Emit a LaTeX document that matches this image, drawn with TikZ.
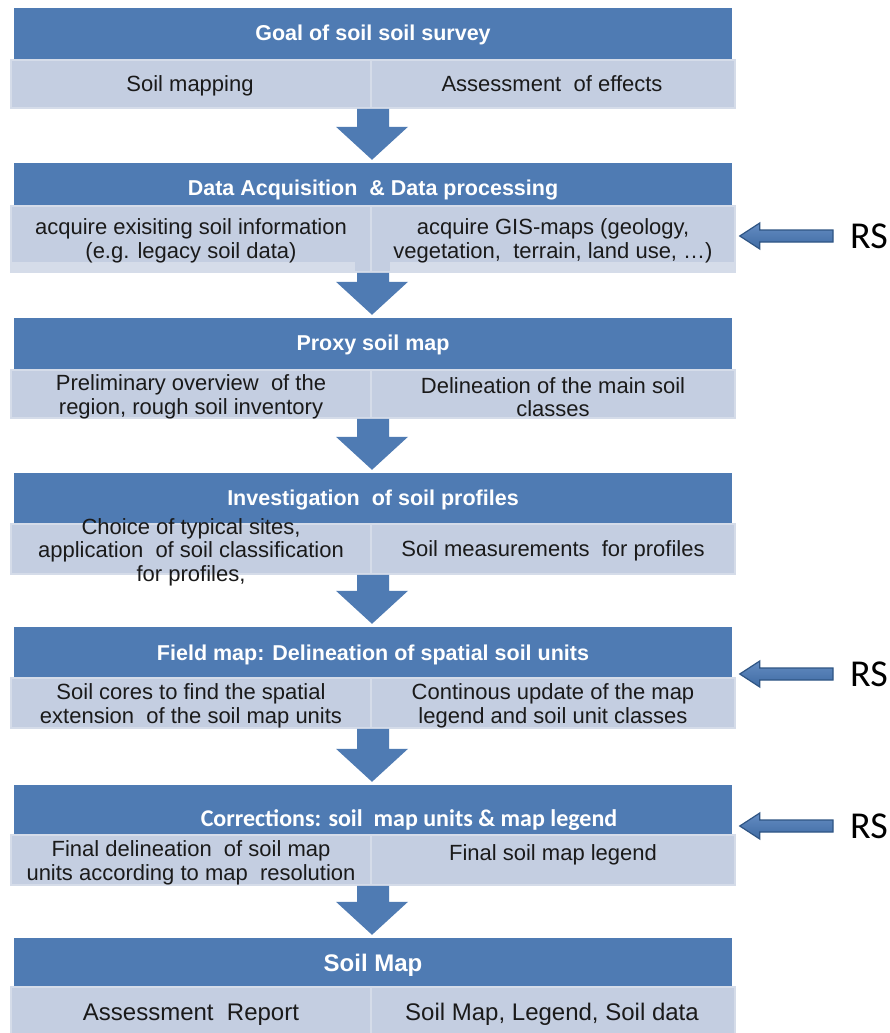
\documentclass[tikz,border=0pt]{standalone}
\usepackage{fontspec}
\setmainfont{Liberation Sans}
\newfontfamily\calib{Carlito}
\usetikzlibrary{calc}
\definecolor{hdr}{HTML}{4F7BB3}
\definecolor{cell}{HTML}{C4CEE1}
\definecolor{cellrim}{HTML}{D5DCE9}
\definecolor{txt}{HTML}{1A1A1A}
\definecolor{rstop}{HTML}{648CC2}
\definecolor{rsbot}{HTML}{3F6BA3}
\definecolor{rsline}{HTML}{2F5584}
\tikzset{
  hdrbox/.style={fill=hdr, inner sep=0pt, minimum width=718pt},
  hdrtitle/.style={text=white, inner sep=0pt, anchor=base, font=\fontsize{21.5}{24}\selectfont\bfseries},
  cellbox/.style={fill=cell, draw=cellrim, line width=1.5pt, inner sep=0pt},
  lcell/.style={cellbox, minimum width=360pt},
  rcell/.style={cellbox, minimum width=364pt},
  celltext/.style={text=txt, align=center, inner sep=0pt, font=\fontsize{22}{23.5}\selectfont},
  oneline/.style={celltext, anchor=base},
  bigtext/.style={text=txt, inner sep=0pt, anchor=base, font=\fontsize{24}{26}\selectfont},
  rslabel/.style={inner sep=0pt, font=\calib\fontsize{38}{40}\selectfont},
  downarrow/.style={fill=hdr},
  rsarrow/.style={top color=rstop, bottom color=rsbot, draw=rsline, line width=1.2pt}
}
\newcommand\flowarrow[2]{%
  \fill[downarrow] let \p1=(#1.south east), \p2=(#2.north) in
    (\x2-16pt,\y1) -- (\x2+16pt,\y1) -- (\x2+16pt,\y2+36pt) -- (\x2+35pt,\y2+36pt)
    -- (\x2-1pt,\y2+3pt) -- (\x2-37pt,\y2+36pt) -- (\x2-16pt,\y2+36pt) -- cycle;}
\newcommand\rsarrowto[2]{%
  \path[rsarrow] let \p1=(#1.west), \p2=(#2.east) in
    (\x2+4pt,\y1) -- (\x2+24pt,\y1+13pt) -- (\x2+24pt,\y1+6pt) -- (\x1-17pt,\y1+6pt)
    -- (\x1-17pt,\y1-6pt) -- (\x2+24pt,\y1-6pt) -- (\x2+24pt,\y1-13pt) -- cycle;}
\begin{document}
\begin{tikzpicture}[x=1pt,y=-1pt]
\useasboundingbox[fill=white] (0,0) rectangle (890,1033);

% ---------- block 1
\node[hdrbox, minimum height=52pt] (h1) at (373,34) {};
\node[hdrtitle] (t1) at (373,40.5) {Goal of soil soil survey};
\node[lcell, minimum height=48pt] (s1l) at (191,84) {};
\node[rcell, minimum height=48pt] (s1r) at (553,84) {};
\node[oneline] (c1l) at (190,91) {Soil mapping};
\node[oneline] (c1r) at (552,91) {Assessment\ \ of effects};

% ---------- block 2
\node[hdrbox, minimum height=43pt] (h2) at (373,184.5) {};
\node[hdrtitle] (t2) at (373,195) {Data Acquisition\ \ \& Data processing};
\node[lcell, minimum height=66pt] (s2l) at (191,239) {};
\node[rcell, minimum height=66pt] (s2r) at (553,239) {};
\fill[cellrim] (11,262) rectangle (355,271.5);
\fill[cellrim] (390,262) rectangle (735,271.5);
\node[celltext] (c2l) at (191,241) {acquire exisiting soil information\\(e.g. legacy soil data)};
\node[celltext] (c2r) at (553,241) {acquire GIS-maps (geology,\\vegetation,\ \ terrain, land use, …)};

% ---------- block 3
\node[hdrbox, minimum height=52pt] (h3) at (373,344) {};
\node[hdrtitle] (t3) at (373,350.5) {Proxy soil map};
\node[lcell, minimum height=48pt] (s3l) at (191,394) {};
\node[rcell, minimum height=48pt] (s3r) at (553,394) {};
\node[celltext] (c3l) at (191,397) {Preliminary overview\ \ of the\\region, rough soil inventory};
\node[celltext] (c3r) at (553,397) {Delineation of the main soil\\classes};

% ---------- block 4
\node[hdrbox, minimum height=51pt] (h4) at (373,498.5) {};
\node[hdrtitle] (t4) at (373,505) {Investigation\ \ of soil profiles};
\node[lcell, minimum height=50pt] (s4l) at (191,549) {};
\node[rcell, minimum height=50pt] (s4r) at (553,549) {};
\node[celltext] (c4l) at (191,552) {Choice of typical sites,\\application\ \ of soil classification\\for profiles,};
\node[oneline] (c4r) at (553,556) {Soil measurements\ \ for profiles};

% ---------- block 5
\node[hdrbox, minimum height=51pt] (h5) at (373,652.5) {};
\node[hdrtitle] (t5) at (373,660.5) {Field map: Delineation of spatial soil units};
\node[lcell, minimum height=50pt] (s5l) at (191,703) {};
\node[rcell, minimum height=50pt] (s5r) at (553,703) {};
\node[celltext] (c5l) at (191,706) {Soil cores to find the spatial\\extension\ \ of the soil map units};
\node[celltext] (c5r) at (553,706) {Continous update of the map\\legend and soil unit classes};

% ---------- block 6
\node[hdrbox, minimum height=50pt] (h6) at (373,810) {};
\node[hdrtitle, font=\calib\fontsize{24}{26}\selectfont\bfseries] (t6) at (409,826.5) {Corrections: soil\ \ map units \& map legend};
\node[lcell, minimum height=50pt] (s6l) at (191,860) {};
\node[rcell, minimum height=50pt] (s6r) at (553,860) {};
\node[celltext] (c6l) at (191,863) {Final delineation\ \ of soil map\\units according to map\ \ resolution};
\node[oneline] (c6r) at (553,860) {Final soil map legend};

% ---------- block 7
\node[hdrbox, minimum height=49pt] (h7) at (373,962.5) {};
\node[hdrtitle, font=\fontsize{24}{26}\selectfont\bfseries] (t7) at (373,971) {Soil Map};
\node[lcell, minimum height=50pt] (s7l) at (191,1012) {};
\node[rcell, minimum height=50pt] (s7r) at (553,1012) {};
\node[bigtext] (c7l) at (191,1020) {Assessment\ \ Report};
\node[bigtext] (c7r) at (552,1020) {Soil Map, Legend, Soil data};

% ---------- flow arrows
\flowarrow{s1l}{h2}
\flowarrow{s2l}{h3}
\flowarrow{s3l}{h4}
\flowarrow{s4l}{h5}
\flowarrow{s5l}{h6}
\flowarrow{s6l}{h7}

% ---------- RS inputs
\node[rslabel] (rs1) at (869,236) {RS};
\node[rslabel] (rs2) at (869,674) {RS};
\node[rslabel] (rs3) at (869,826) {RS};
\rsarrowto{rs1}{s2r}
\rsarrowto{rs2}{s5r}
\rsarrowto{rs3}{s6r}
\end{tikzpicture}
\end{document}
